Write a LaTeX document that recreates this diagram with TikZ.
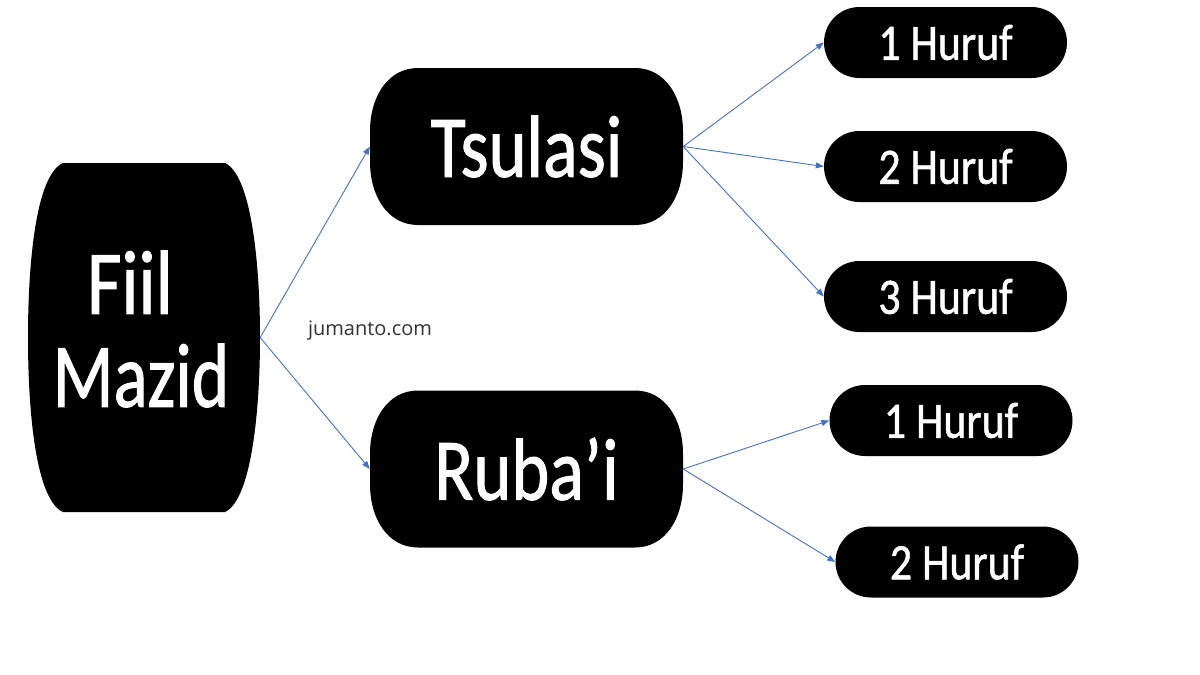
\documentclass[tikz,border=0pt]{standalone}
\usepackage{fontspec}
\usepackage{graphicx}
\setmainfont{Carlito}
\newfontfamily\medfont{Carlito}[FakeBold=1.2]
\newfontfamily\wmfont{Open Sans}
\usetikzlibrary{arrows.meta}
\definecolor{arrowblue}{HTML}{4472C4}
\definecolor{wmgray}{HTML}{333333}
\tikzset{
  conn/.style={draw=arrowblue, line width=0.9pt, -{Triangle[length=8pt,width=6pt]}},
  pill/.style={fill=black, rounded corners=35.5pt, minimum width=243pt, minimum height=71pt,
    text=white, inner sep=0pt, font=\medfont\fontsize{51}{55}\selectfont},
  midbox/.style={minimum width=313pt, minimum height=157pt, inner sep=0pt, text=white,
    font=\medfont\fontsize{88}{92}\selectfont},
  bigbox/.style={minimum width=232pt, minimum height=349pt, inner sep=0pt},
  bigtext/.style={inner sep=0pt, text=white, align=center, font=\medfont\fontsize{91}{93}\selectfont},
}
\newcommand{\hsq}[2]{\scalebox{#1}[1]{#2}}
\begin{document}
\begin{tikzpicture}[x=1pt,y=-1pt]
\useasboundingbox (0,0) rectangle (1200,675);
% left barrel shape
\fill[black] (63,163) -- (225,163)
  .. controls (251,175) and (260,262) .. (260,337.5)
  .. controls (260,413) and (251,500) .. (225,512)
  -- (63,512)
  .. controls (36,500) and (28,413) .. (28,337.5)
  .. controls (28,262) and (36,175) .. (63,163) -- cycle;
% middle boxes (elliptical corners)
\foreach \yc in {146.5,469} {
  \fill[black] (418,\yc-78.5) -- (635,\yc-78.5)
    .. controls (665,\yc-78.5) and (683,\yc-50) .. (683,\yc-15)
    -- (683,\yc+15)
    .. controls (683,\yc+50) and (665,\yc+78.5) .. (635,\yc+78.5)
    -- (418,\yc+78.5)
    .. controls (388,\yc+78.5) and (370,\yc+50) .. (370,\yc+15)
    -- (370,\yc-15)
    .. controls (370,\yc-50) and (388,\yc-78.5) .. (418,\yc-78.5) -- cycle;
}
\node[bigbox] (fm) at (144,337.5) {};
\node[bigtext] (fmt) at (141,329) {\hsq{0.82}{Fiil}\hspace*{22pt}\\\hsq{0.78}{Mazid}};
\node[midbox] (ts) at (526.5,146.5) {\hsq{0.82}{Tsulasi}};
\node[midbox] (rb) at (526.5,469) {\hsq{0.82}{Ruba’i}};
\node[pill] (h1) at (945.5,42.5) {\hsq{0.86}{1 Huruf}};
\node[pill] (h2) at (945.5,166.5) {\hsq{0.86}{2 Huruf}};
\node[pill] (h3) at (945.5,296.5) {\hsq{0.86}{3 Huruf}};
\node[pill] (r1) at (951,420.5) {\hsq{0.86}{1 Huruf}};
\node[pill] (r2) at (957,562) {\hsq{0.86}{2 Huruf}};
\node[text=wmgray, font=\wmfont\fontsize{20}{22}\selectfont, inner sep=0pt] (wm) at (370,331) {jumanto.com};
\draw[conn] (fm.east) -- (ts.west);
\draw[conn] (fm.east) -- (rb.west);
\draw[conn] (ts.east) -- (h1.west);
\draw[conn] (ts.east) -- (h2.west);
\draw[conn] (ts.east) -- (h3.west);
\draw[conn] (rb.east) -- (r1.west);
\draw[conn] (rb.east) -- (r2.west);
\end{tikzpicture}
\end{document}
